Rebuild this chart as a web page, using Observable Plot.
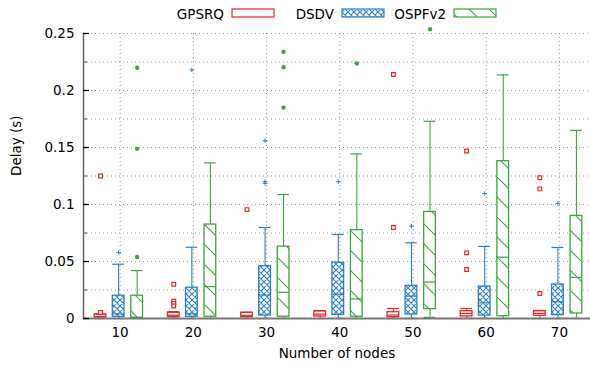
<!DOCTYPE html>
<html><head><meta charset="utf-8">
<script src="https://cdn.jsdelivr.net/npm/d3@7"></script>
<script src="https://cdn.jsdelivr.net/npm/@observablehq/plot@0.6"></script>
<style>
body{margin:0;background:#fff;font-family:"DejaVu Sans",sans-serif;}
#wrap{position:relative;width:590px;height:368px;overflow:hidden;}
#legend{position:absolute;left:0;top:0;}
</style></head><body>
<svg width="0" height="0" style="position:absolute"><defs>
<pattern id="xhatch" patternUnits="userSpaceOnUse" width="6" height="6">
 <rect width="6" height="6" fill="#fff"/>
 <path d="M0,0L6,6M6,0L0,6M-1,5L1,7M5,-1L7,1M-1,1L1,-1M5,7L7,5" stroke="#2f7fc1" stroke-width="1.1"/>
</pattern>
<pattern id="dhatch" patternUnits="userSpaceOnUse" width="20" height="20">
 <rect width="20" height="20" fill="#fff"/>
 <path d="M0,0L20,20M-2,18L2,22M18,-2L22,2" stroke="#3da53d" stroke-width="1.1"/>
</pattern>
</defs></svg>
<div id="wrap"><div id="chart"></div><svg id="legend" width="590" height="28"></svg></div>
<script>
const nodes = [10, 20, 30, 40, 50, 60, 70];
const seriesNames = ["GPSRQ", "DSDV", "OSPFv2"];
const yTicks = [0, 0.05, 0.1, 0.15, 0.2, 0.25];
const yTickLabels = ["0", "0.05", "0.1", "0.15", "0.2", "0.25"];
const yMinor = [0.025, 0.075, 0.125, 0.175, 0.225];
const yGrid = [0.025, 0.05, 0.075, 0.1, 0.125, 0.15, 0.175, 0.2, 0.225, 0.25];

// GPSRQ
const gpsrqMin = [0, 0, 0, 0, 0, 0, 0];
const gpsrqQ1  = [0.0008, 0.0012, 0.0012, 0.0018, 0.0012, 0.0018, 0.0024];
const gpsrqMed = [0.0018, 0.0028, 0.0028, 0.0038, 0.003, 0.0044, 0.0045];
const gpsrqQ3  = [0.0035, 0.005, 0.005, 0.0062, 0.0055, 0.0064, 0.0066];
const gpsrqMax = [0.004, 0.006, 0.0055, 0.007, 0.0088, 0.0088, 0.0068];
const gpsrqOut = [[0.125, 0.0052], [0.030, 0.0152, 0.0132, 0.011], [0.0955], [], [0.214, 0.0798], [0.147, 0.0576, 0.043], [0.1234, 0.1137, 0.022]];
// DSDV
const dsdvMin = [0, 0, 0, 0, 0, 0, 0];
const dsdvQ1  = [0.0015, 0.0015, 0.0026, 0.0032, 0.0035, 0.0026, 0.0029];
const dsdvMed = [0.004, 0.004, 0.0207, 0.0213, 0.0196, 0.0137, 0.0146];
const dsdvQ3  = [0.020, 0.027, 0.0459, 0.049, 0.0286, 0.028, 0.0298];
const dsdvMax = [0.0476, 0.0625, 0.0798, 0.0737, 0.0664, 0.0632, 0.0623];
const dsdvOut = [[0.058], [0.218], [0.156, 0.120, 0.1185], [0.120], [0.081], [0.1096], [0.101]];
// OSPFv2
const ospfMin = [0, 0, 0, 0, 0.001, 0, 0];
const ospfQ1  = [0.0005, 0.0015, 0.0015, 0.0015, 0.0082, 0.002, 0.0044];
const ospfMed = [0.001, 0.028, 0.023, 0.0172, 0.032, 0.0538, 0.036];
const ospfQ3  = [0.020, 0.0824, 0.063, 0.0775, 0.0935, 0.138, 0.090];
const ospfMax = [0.042, 0.1365, 0.1087, 0.1444, 0.173, 0.2137, 0.165];
const ospfOut = [[0.054, 0.149, 0.220], [], [0.185, 0.2204, 0.234], [0.2237], [0.2537], [], []];

const RED = "#e3292c", BLUE = "#2f7fc1", GREEN = "#3da53d";
const BW = 1.6;
const offsets = [-2.67, -0.2, 2.33];

function boxRows(mins, q1s, meds, q3s, maxs, off) {
  return nodes.map((n, i) => ({x: n + off, xl: n + off - BW / 2, xr: n + off + BW / 2,
    min: mins[i], q1: q1s[i], med: meds[i], q3: q3s[i], max: maxs[i]}));
}
function outRows(outs, off) {
  return nodes.flatMap((n, i) => outs[i].map(v => ({x: n + off, y: v})));
}

const series = [
  {rows: boxRows(gpsrqMin, gpsrqQ1, gpsrqMed, gpsrqQ3, gpsrqMax, offsets[0]), out: outRows(gpsrqOut, offsets[0]), c: RED, fill: "none"},
  {rows: boxRows(dsdvMin, dsdvQ1, dsdvMed, dsdvQ3, dsdvMax, offsets[1]), out: outRows(dsdvOut, offsets[1]), c: BLUE, fill: "url(#xhatch)"},
  {rows: boxRows(ospfMin, ospfQ1, ospfMed, ospfQ3, ospfMax, offsets[2]), out: outRows(ospfOut, offsets[2]), c: GREEN, fill: "url(#dhatch)"}
];

const marks = [
  Plot.gridY(yGrid, {stroke: "#999", strokeOpacity: 1, strokeDasharray: "1,3"}),
  Plot.gridX(nodes, {stroke: "#999", strokeOpacity: 1, strokeDasharray: "1,3"})
];
series.forEach((s, k) => {
  marks.push(
    Plot.ruleX(s.rows, {x: "x", y1: "q3", y2: "max", stroke: s.c, strokeWidth: 1.1}),
    Plot.ruleX(s.rows, {x: "x", y1: "min", y2: "q1", stroke: s.c, strokeWidth: 1.1}),
    Plot.ruleY(s.rows, {y: "max", x1: "xl", x2: "xr", stroke: s.c, strokeWidth: 1.2}),
    Plot.ruleY(s.rows, {y: "min", x1: "xl", x2: "xr", stroke: s.c, strokeWidth: 1.2}),
    Plot.rect(s.rows, {x1: "xl", x2: "xr", y1: "q1", y2: "q3", fill: s.fill, stroke: s.c, strokeWidth: 1.3}),
    Plot.ruleY(s.rows, {y: "med", x1: "xl", x2: "xr", stroke: s.c, strokeWidth: 1.2})
  );
  if (k === 0) marks.push(Plot.dot(s.out, {x: "x", y: "y", symbol: "square", r: 2.1, stroke: s.c, fill: "#fff", strokeWidth: 1.2}));
  if (k === 1) marks.push(Plot.dot(s.out, {x: "x", y: "y", symbol: "plus", r: 1.6, stroke: s.c, strokeWidth: 1}));
  if (k === 2) marks.push(Plot.dot(s.out, {x: "x", y: "y", symbol: "circle", r: 2.2, fill: s.c, stroke: "none"}));
});
marks.push(
  Plot.ruleY([0], {stroke: "#777", strokeWidth: 2}),
  Plot.ruleX([5], {stroke: "#666", strokeWidth: 1.5}),
  Plot.ruleY(yTicks, {y: d => d, x1: 5, x2: 5, insetRight: -6, stroke: "#000", strokeWidth: 1.3}),
  Plot.ruleY(yMinor, {y: d => d, x1: 5, x2: 5, insetRight: -4, stroke: "#666", strokeWidth: 1.2}),
  Plot.axisY(yTicks, {tickSize: 0, tickPadding: 9, tickFormat: d => yTickLabels[yTicks.indexOf(d)], label: null}),
  Plot.axisX(nodes, {tickSize: 0, tickPadding: 9, label: null}),
  Plot.text(["Delay (s)"], {frameAnchor: "left", dx: -67, rotate: -90, fontSize: 13.5}),
  Plot.text(["Number of nodes"], {frameAnchor: "bottom", dy: 39, fontSize: 13.5})
);

const chart = Plot.plot({
  width: 590, height: 368,
  marginLeft: 83, marginRight: 0, marginTop: 33, marginBottom: 50,
  x: {domain: [5, 74.25]},
  y: {domain: [0, 0.25]},
  style: {fontFamily: "DejaVu Sans", fontSize: "13.5px", color: "#000", background: "#fff", overflow: "visible"},
  marks
});
document.getElementById("chart").appendChild(chart);

// legend
const lg = d3.select("#legend");
const legendColors = [RED, BLUE, GREEN];
const legendFills = ["none", "url(#xhatch)", "url(#dhatch)"];
const legendRectX = [232, 342, 454];
seriesNames.forEach((name, i) => {
  lg.append("text").attr("x", legendRectX[i] - 8).attr("y", 18.5).attr("text-anchor", "end")
    .attr("font-family", "DejaVu Sans").attr("font-size", "13.5px").attr("fill", "#000").text(name);
  lg.append("rect").attr("x", legendRectX[i]).attr("y", 9).attr("width", 42).attr("height", 8)
    .attr("fill", legendFills[i]).attr("stroke", legendColors[i]).attr("stroke-width", 1.2);
});
</script>
</body></html>
